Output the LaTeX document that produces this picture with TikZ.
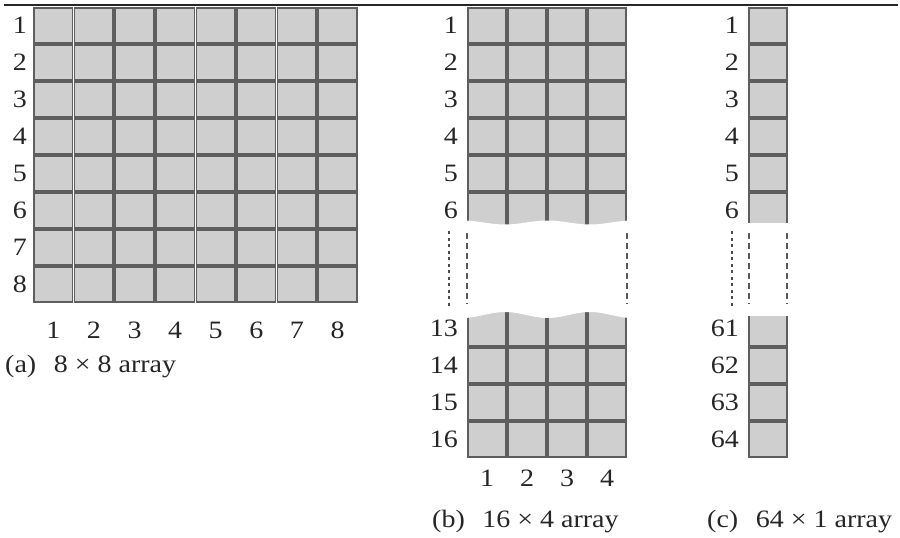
\documentclass[tikz,border=0pt]{standalone}
\usepackage{fontspec}
\setmainfont{Liberation Serif}[FakeStretch=1.12]
\begin{document}
\begin{tikzpicture}[x=1pt,y=-1pt,
  cell/.style={draw=black!63, fill=black!19, line width=1.6pt, minimum width=38.6pt, minimum height=35pt, inner sep=0pt, outer sep=0pt},
  cellb/.style={cell, minimum width=38pt},
  lbl/.style={font=\fontsize{25}{29}\selectfont, inner sep=0pt, text=black!85},
  cut/.style={dash pattern=on 6pt off 4pt, line width=1.3pt, draw=black!65},
  dots/.style={dash pattern=on 3pt off 3.5pt, line width=1.5pt, draw=black!70}]
\useasboundingbox (0,0) rectangle (900,538);
\fill[white] (0,0) rectangle (900,538);
% top rule
\draw[line width=1.3pt, black!85] (4,5) -- (898,5);
% (a) 8x8 array
\foreach \r in {1,...,8}{
  \foreach \c in {1,...,8}{
    \node[cell] (a-\r-\c) at ({33+40.6*(\c-0.5)},{7+37*(\r-0.5)}) {};
  }
  \node[lbl, anchor=east] (ar\r) at (27,{7+37*(\r-0.5)}) {\r};
}
\foreach \c in {1,...,8}{
  \node[lbl] (ac\c) at ({33+40.6*(\c-0.5)},330) {\c};
}
\node[lbl, anchor=base west] (capa) at (5,372) {(a)\hspace{0.7em}8 × 8 array};
% (b) 16x4 array
\foreach \r in {1,...,6}{
  \foreach \c in {1,...,4}{
    \node[cellb] (b-\r-\c) at ({467+40*(\c-0.5)},{7+37*(\r-0.5)}) {};
  }
  \node[lbl, anchor=east] (br\r) at (458,{7+37*(\r-0.5)}) {\r};
}
\foreach \r in {13,...,16}{
  \foreach \c in {1,...,4}{
    \node[cellb] (b-\r-\c) at ({467+40*(\c-0.5)},{310+37*(\r-12.5)}) {};
  }
  \node[lbl, anchor=east] (br\r) at (458,{310+37*(\r-12.5)}) {\r};
}
\fill[white] plot[domain=460:634, samples=80] (\x,{222.5+2*cos((\x-505)*4.235)})
  -- plot[domain=634:460, samples=80] (\x,{315-3*cos((\x-505)*4.235)}) -- cycle;
\coordinate (bl1) at (467,233); \coordinate (bl2) at (467,304);
\coordinate (bd1) at (627,233); \coordinate (bd2) at (627,304);
\coordinate (bp1) at (449,231); \coordinate (bp2) at (449,306);
\draw[cut] (bl1) -- (bl2);
\draw[cut] (bd1) -- (bd2);
\draw[dots] (bp1) -- (bp2);
\foreach \c in {1,...,4}{
  \node[lbl] (bc\c) at ({467+40*(\c-0.5)},478) {\c};
}
\node[lbl, anchor=base west] (capb) at (432,527) {(b)\hspace{0.7em}16 × 4 array};
% (c) 64x1 array
\foreach \r in {1,...,6}{
  \node[cellb] (c-\r) at (768,{7+37*(\r-0.5)}) {};
  \node[lbl, anchor=east] (cr\r) at (739,{7+37*(\r-0.5)}) {\r};
}
\foreach \r in {61,...,64}{
  \node[cellb] (c-\r) at (768,{310+37*(\r-60.5)}) {};
  \node[lbl, anchor=east] (cr\r) at (739,{310+37*(\r-60.5)}) {\r};
}
\fill[white] (744,223) rectangle (792,316);
\coordinate (cl1) at (749,233); \coordinate (cl2) at (749,304);
\coordinate (cd1) at (787,233); \coordinate (cd2) at (787,304);
\coordinate (cp1) at (732,231); \coordinate (cp2) at (732,306);
\draw[cut] (cl1) -- (cl2);
\draw[cut] (cd1) -- (cd2);
\draw[dots] (cp1) -- (cp2);
\node[lbl, anchor=base west] (capc) at (707,527) {(c)\hspace{0.7em}64 × 1 array};
\end{tikzpicture}
\end{document}
